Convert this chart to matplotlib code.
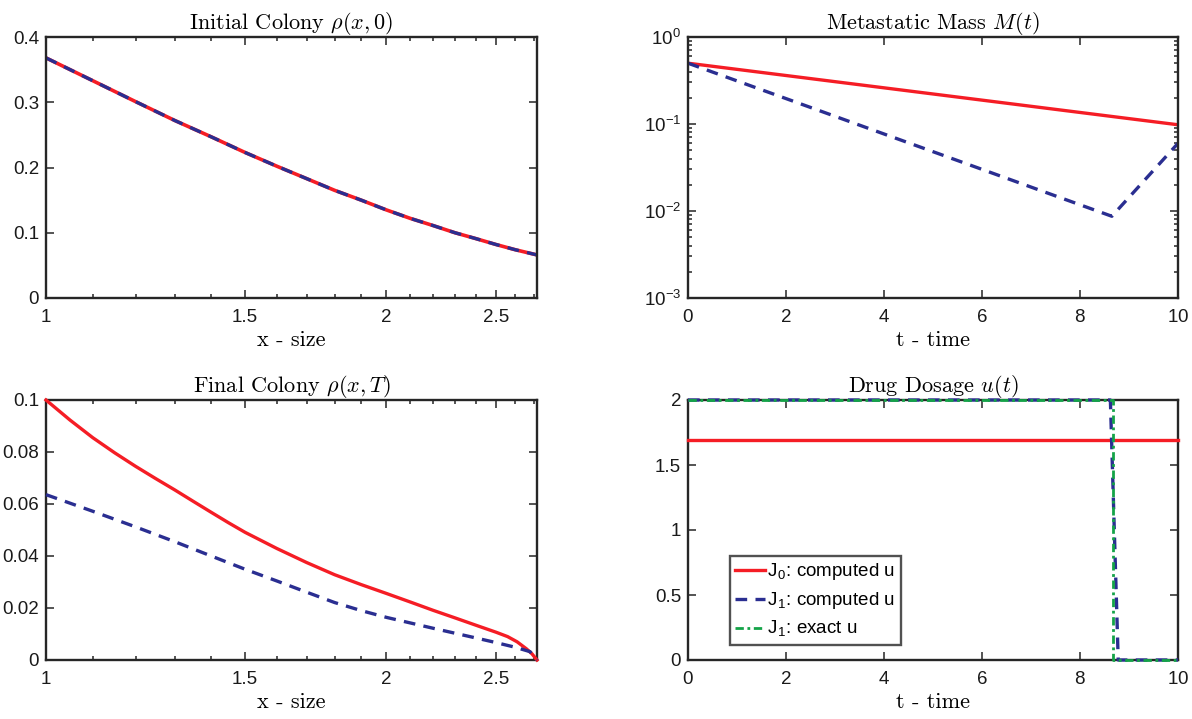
import numpy as np
import matplotlib
matplotlib.use("Agg")
import matplotlib.pyplot as plt
from matplotlib.ticker import FixedLocator, FixedFormatter, NullFormatter, LogLocator

plt.rcParams['font.family'] = ['Liberation Sans', 'DejaVu Sans']
plt.rcParams['mathtext.fontset'] = 'cm'
plt.rcParams['axes.formatter.use_mathtext'] = True

# ---------------- data ----------------
x_init = [1.0, 1.1, 1.2, 1.3, 1.4, 1.5, 1.6, 1.7, 1.8, 1.9, 2.0, 2.1, 2.2, 2.3, 2.4, 2.5, 2.6, 2.718]
rho_init = [0.368, 0.333, 0.301, 0.272, 0.247, 0.223, 0.202, 0.183, 0.165, 0.150, 0.135,
            0.122, 0.111, 0.100, 0.091, 0.082, 0.074, 0.066]

x_final_J0 = [1.0, 1.05, 1.1, 1.15, 1.2, 1.25, 1.3, 1.35, 1.4, 1.45, 1.5, 1.6, 1.7, 1.8, 1.9,
              2.0, 2.1, 2.2, 2.3, 2.41, 2.5, 2.56, 2.61, 2.66, 2.69, 2.718]
rho_final_J0 = [0.100, 0.0923, 0.0855, 0.0797, 0.0745, 0.0698, 0.0654, 0.0610, 0.0568,
                0.0528, 0.0491, 0.0429, 0.0375, 0.0328, 0.0290, 0.0256, 0.0223, 0.0191,
                0.0162, 0.0131, 0.0107, 0.0090, 0.0070, 0.0043, 0.0024, 0.0]
x_final_J1 = [1.0, 1.1, 1.2, 1.3, 1.4, 1.5, 1.6, 1.7, 1.8, 1.9, 2.0, 2.2, 2.41, 2.5, 2.6,
              2.68, 2.718]
rho_final_J1 = [0.0636, 0.0572, 0.0512, 0.0455, 0.0400, 0.0349, 0.0304, 0.0261, 0.0221,
                0.0190, 0.0164, 0.0122, 0.0083, 0.0067, 0.0049, 0.0032, 0.0]

t_mass_J0 = [0.0, 10.0]
mass_J0 = [0.50, 0.098]
t_mass_J1 = [0.0, 8.65, 10.0]
mass_J1 = [0.50, 0.0087, 0.060]

t_u_J0 = [0.0, 10.0]
u_J0 = [1.69, 1.69]
t_u_J1 = [0.0, 8.62, 8.78, 10.0]
u_J1 = [2.0, 2.0, 0.0, 0.0]
t_u_exact = [0.0, 8.67, 8.67, 10.0]
u_exact = [2.0, 2.0, 0.0, 0.0]

titles = [r'Initial Colony $\rho(x,0)$', r'Metastatic Mass $M(t)$',
          r'Final Colony $\rho(x,T)$', r'Drug Dosage $u(t)$']
xlabels = ['x - size', 't - time', 'x - size', 't - time']
legend_labels = [r'J$_\mathregular{0}$: computed u', r'J$_\mathregular{1}$: computed u',
                 r'J$_\mathregular{1}$: exact u']

RED = '#f51d25'
BLUE = '#2a2e91'
GREEN = '#14a348'
SPINE = '#262626'
DASH = (0, (3.5, 2.5))
DASHDOT = (0, (3, 1.3, 1, 1.3))

fig = plt.figure(figsize=(11.92, 7.19), dpi=100)
W, H = 1192.0, 719.0
def mk(l, r, t, b):
    return fig.add_axes([l / W, 1 - b / H, (r - l) / W, (b - t) / H])

ax1 = mk(46, 537, 37, 298)
ax2 = mk(688, 1178, 37, 298)
ax3 = mk(46, 537, 400, 660)
ax4 = mk(688, 1178, 400, 660)

TFS = 13.5
for ax, ttl, xl in zip([ax1, ax2, ax3, ax4], titles, xlabels):
    ax.set_title(ttl, fontfamily='cmr10', fontsize=16, pad=6)
    ax.set_xlabel(xl, fontfamily='cmr10', fontsize=16, labelpad=3)
    for s in ax.spines.values():
        s.set_linewidth(1.7)
        s.set_color(SPINE)
    ax.tick_params(which='both', direction='in', top=True, right=True,
                   labelsize=TFS, colors=SPINE, labelcolor='#1a1a1a', width=1.1)
    ax.tick_params(which='major', length=6)
    ax.tick_params(which='minor', length=3)
    ax.tick_params(axis='x', which='major', pad=8)
    ax.tick_params(axis='y', which='major', pad=5)

# left panels: log x
for ax in (ax1, ax3):
    ax.set_xscale('log')
    ax.set_xlim(1, 2.718)
    ax.xaxis.set_major_locator(FixedLocator([1, 1.5, 2, 2.5]))
    ax.xaxis.set_major_formatter(FixedFormatter(['1', '1.5', '2', '2.5']))
    ax.xaxis.set_minor_locator(FixedLocator([1.1, 1.2, 1.3, 1.4, 1.6, 1.7, 1.8, 1.9,
                                             2.1, 2.2, 2.3, 2.4, 2.6, 2.7]))
    ax.xaxis.set_minor_formatter(NullFormatter())

ax1.plot(x_init, rho_init, color=RED, lw=2.6, solid_capstyle='butt')
ax1.plot(x_init, rho_init, color=BLUE, lw=2.4, ls=DASH)
ax1.set_ylim(0, 0.4)
ax1.set_yticks([0, 0.1, 0.2, 0.3, 0.4])
ax1.set_yticklabels(['0', '0.1', '0.2', '0.3', '0.4'])

ax3.plot(x_final_J0, rho_final_J0, color=RED, lw=2.4, clip_on=False, zorder=3)
ax3.plot(x_final_J1, rho_final_J1, color=BLUE, lw=2.4, ls=DASH, clip_on=False, zorder=3)
ax3.set_ylim(0, 0.1)
ax3.set_yticks([0, 0.02, 0.04, 0.06, 0.08, 0.1])
ax3.set_yticklabels(['0', '0.02', '0.04', '0.06', '0.08', '0.1'])

# metastatic mass
ax2.set_yscale('log')
ax2.plot(t_mass_J0, mass_J0, color=RED, lw=2.4)
ax2.plot(t_mass_J1, mass_J1, color=BLUE, lw=2.4, ls=DASH)
ax2.set_xlim(0, 10)
ax2.set_ylim(1e-3, 1)
ax2.set_xticks([0, 2, 4, 6, 8, 10])
ax2.yaxis.set_major_locator(LogLocator(base=10, numticks=10))
ax2.yaxis.set_minor_locator(LogLocator(base=10, subs=np.arange(2, 10), numticks=10))
ax2.yaxis.set_minor_formatter(NullFormatter())

# drug dosage
l1, = ax4.plot(t_u_J0, u_J0, color=RED, lw=2.4, clip_on=False, zorder=3)
l2, = ax4.plot(t_u_J1, u_J1, color=BLUE, lw=2.4, ls=DASH, clip_on=False, zorder=3)
l3, = ax4.plot(t_u_exact, u_exact, color=GREEN, lw=2.0, ls=DASHDOT, clip_on=False, zorder=3.1)
ax4.set_xlim(0, 10)
ax4.set_ylim(0, 2)
ax4.set_xticks([0, 2, 4, 6, 8, 10])
ax4.set_yticks([0, 0.5, 1, 1.5, 2])
ax4.set_yticklabels(['0', '0.5', '1', '1.5', '2'])
leg = ax4.legend([l1, l2, l3], legend_labels, loc='lower left',
                 bbox_to_anchor=(0.085, 0.058), fontsize=13.5, frameon=True,
                 fancybox=False, edgecolor=SPINE, handlelength=1.6,
                 handletextpad=0.1, borderpad=0.3, labelspacing=0.42, borderaxespad=0)
leg.get_frame().set_linewidth(1.7)
leg.set_zorder(5)

fig.savefig('out.png', dpi=100)
